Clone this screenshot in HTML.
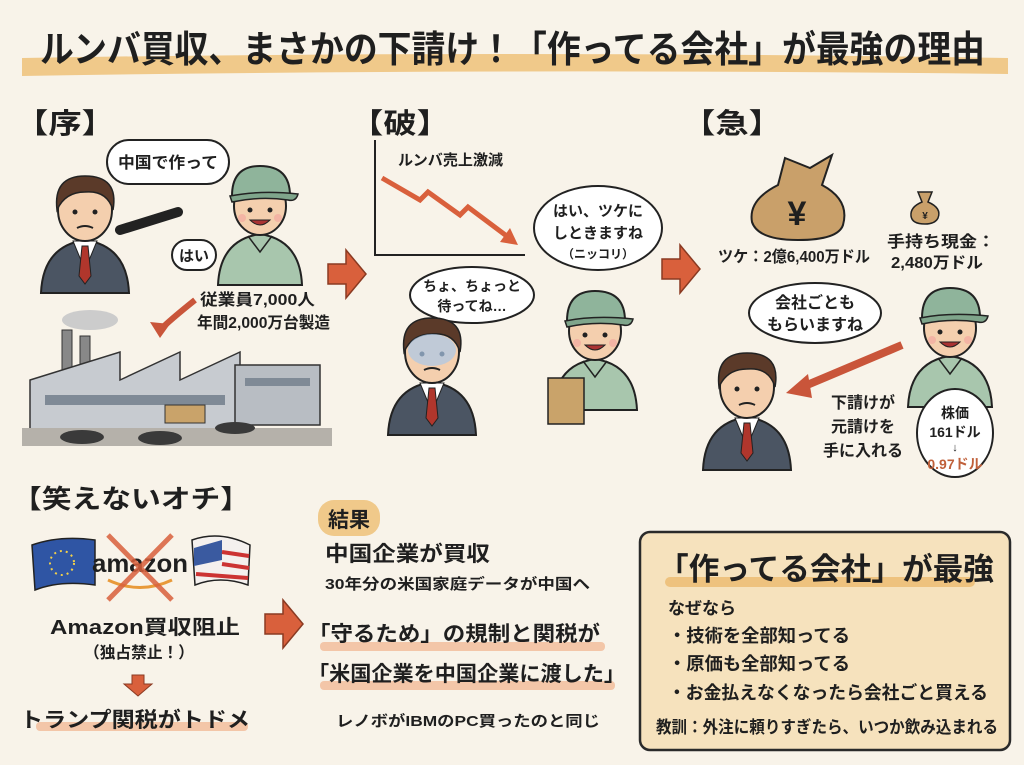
<!DOCTYPE html>
<html><head><meta charset="utf-8"><style>
html,body{margin:0;padding:0;background:#f8f3e9;}
svg{display:block;font-family:"Liberation Sans","Noto Sans CJK JP",sans-serif;}
.b{font-weight:bold;fill:#1f1f1f;}
</style></head><body>
<svg width="1024" height="765" viewBox="0 0 1024 765" xmlns="http://www.w3.org/2000/svg">
<defs>
<g id="man">
<path d="M6,125 Q8,78 50,72 Q92,78 94,125 Z" fill="#4b5563" stroke="#222" stroke-width="2"/>
<path d="M38,73 L50,102 L62,73 Z" fill="#fff" stroke="#222"/>
<path d="M47,78 L53,78 L56,108 L50,116 L44,108 Z" fill="#b0362c" stroke="#222"/>
<ellipse cx="50" cy="42" rx="27" ry="31" fill="#f4cfae" stroke="#222" stroke-width="2"/>
<path d="M22,42 Q18,8 50,8 Q84,8 78,42 Q72,22 50,24 Q30,24 22,42 Z" fill="#5b3a29" stroke="#222" stroke-width="1.5"/>
<circle cx="40" cy="44" r="2.5" fill="#222"/><circle cx="60" cy="44" r="2.5" fill="#222"/>
<path d="M42,60 Q50,56 58,60" stroke="#222" stroke-width="2" fill="none"/>
</g>
<g id="wk">
<path d="M8,125 Q10,80 50,74 Q90,80 92,125 Z" fill="#a8c6ad" stroke="#222" stroke-width="2"/>
<path d="M38,76 L50,92 L62,76" fill="none" stroke="#222" stroke-width="1.5"/>
<ellipse cx="50" cy="46" rx="26" ry="29" fill="#f4cfae" stroke="#222" stroke-width="2"/>
<path d="M22,36 Q22,6 50,6 Q80,6 80,36 Z" fill="#8fb49b" stroke="#222" stroke-width="2"/>
<path d="M20,36 Q50,30 88,34 Q86,42 78,40 Q50,36 22,42 Z" fill="#7fa58b" stroke="#222" stroke-width="1.5"/>
<circle cx="40" cy="50" r="2.5" fill="#222"/><circle cx="60" cy="50" r="2.5" fill="#222"/>
<path d="M40,60 Q50,70 60,60 Z" fill="#a33" stroke="#222"/>
<circle cx="32" cy="58" r="4" fill="#f2a8a0" opacity=".7"/><circle cx="68" cy="58" r="4" fill="#f2a8a0" opacity=".7"/>
</g>
<g id="arr"><path d="M0,14 L18,14 L18,0 L38,24 L18,48 L18,34 L0,34 Z" fill="#d9603c" stroke="#8a3a22" stroke-width="1.5"/></g>
</defs>

<!-- Title -->
<path d="M22,58 Q500,50 1008,58 L1008,74 Q500,68 22,76 Z" fill="#f0c98a"/>
<text x="40" y="62" class="b" font-size="37" textLength="945" lengthAdjust="spacingAndGlyphs">ルンバ買収、まさかの下請け！「作ってる会社」が最強の理由</text>

<text x="15" y="133" class="b" font-size="28" textLength="100" lengthAdjust="spacingAndGlyphs">【序】</text>
<text x="350" y="133" class="b" font-size="28" textLength="100" lengthAdjust="spacingAndGlyphs">【破】</text>
<text x="682" y="133" class="b" font-size="28" textLength="100" lengthAdjust="spacingAndGlyphs">【急】</text>

<!-- 序 -->
<rect x="107" y="140" width="122" height="44" rx="22" fill="#fff" stroke="#222" stroke-width="2"/>
<text x="118" y="168" font-size="16" class="b" textLength="100" lengthAdjust="spacingAndGlyphs">中国で作って</text>
<use href="#man" x="35" y="168"/>
<path d="M120,230 L178,212" stroke="#222" stroke-width="10" stroke-linecap="round"/>
<use href="#wk" x="210" y="160"/>
<rect x="172" y="240" width="44" height="30" rx="15" fill="#fff" stroke="#222" stroke-width="2"/>
<text x="194" y="261" text-anchor="middle" font-size="15" class="b">はい</text>
<text x="200" y="305" font-size="16" class="b" textLength="115" lengthAdjust="spacingAndGlyphs">従業員7,000人</text>
<text x="197" y="328" font-size="16" class="b" textLength="133" lengthAdjust="spacingAndGlyphs">年間2,000万台製造</text>
<path d="M195,300 Q170,320 160,330" stroke="#c9553a" stroke-width="6" fill="none"/>
<path d="M150,322 L160,338 L170,324 Z" fill="#c9553a"/>
<!-- factory -->
<rect x="62" y="330" width="10" height="50" fill="#888" stroke="#333"/><rect x="80" y="336" width="10" height="44" fill="#888" stroke="#333"/>
<ellipse cx="90" cy="320" rx="28" ry="10" fill="#ccc"/>
<path d="M30,380 L120,352 L120,380 L180,352 L180,380 L240,352 L240,430 L30,430 Z" fill="#c7cbd0" stroke="#333" stroke-width="1.5"/>
<rect x="235" y="365" width="85" height="60" fill="#b8bdc3" stroke="#333" stroke-width="1.5"/>
<rect x="45" y="395" width="180" height="10" fill="#7f8a96"/><rect x="245" y="378" width="65" height="8" fill="#7f8a96"/>
<rect x="165" y="405" width="40" height="18" fill="#c9a36a" stroke="#333"/>
<rect x="22" y="428" width="310" height="18" fill="#b5b1aa"/>
<ellipse cx="82" cy="437" rx="22" ry="7" fill="#3a3a3a"/><ellipse cx="160" cy="438" rx="22" ry="7" fill="#3a3a3a"/><ellipse cx="235" cy="428" rx="20" ry="6" fill="#3a3a3a"/>
<use href="#arr" x="328" y="250"/>

<!-- 破 -->
<path d="M375,140 L375,255 L525,255" stroke="#222" stroke-width="2" fill="none"/>
<text x="398" y="165" font-size="15" class="b" textLength="105" lengthAdjust="spacingAndGlyphs">ルンバ売上激減</text>
<path d="M382,178 L420,200 L428,192 L460,215 L468,207 L512,240" stroke="#d9603c" stroke-width="5" fill="none"/>
<path d="M500,242 L518,245 L510,228 Z" fill="#d9603c"/>
<ellipse cx="598" cy="228" rx="64" ry="42" fill="#fff" stroke="#222" stroke-width="2"/>
<text x="598" y="216" text-anchor="middle" font-size="15" class="b">はい、ツケに</text>
<text x="598" y="238" text-anchor="middle" font-size="15" class="b">しときますね</text>
<text x="598" y="258" text-anchor="middle" font-size="12" class="b">（ニッコリ）</text>
<ellipse cx="472" cy="295" rx="62" ry="28" fill="#fff" stroke="#222" stroke-width="2"/>
<text x="472" y="291" text-anchor="middle" font-size="14" class="b">ちょ、ちょっと</text>
<text x="472" y="311" text-anchor="middle" font-size="14" class="b">待ってね…</text>
<use href="#man" x="382" y="310"/>
<ellipse cx="432" cy="350" rx="24" ry="16" fill="#a9c8e8" opacity=".7"/>
<use href="#wk" x="545" y="285"/>
<rect x="548" y="378" width="36" height="46" fill="#c9a36a" stroke="#222" stroke-width="1.5"/>
<use href="#arr" x="662" y="245"/>

<!-- 急 -->
<path d="M785,158 L810,168 L832,155 L822,185 Q850,200 843,225 Q838,240 798,240 Q758,240 752,222 Q748,200 778,185 Z" fill="#c9a06a" stroke="#222" stroke-width="2"/>
<text x="797" y="225" text-anchor="middle" font-size="34" class="b">¥</text>
<text x="718" y="262" font-size="16" class="b" textLength="152" lengthAdjust="spacingAndGlyphs">ツケ：2億6,400万ドル</text>
<path d="M918,192 L932,192 L928,202 Q942,208 938,218 Q935,224 925,224 Q912,224 911,216 Q910,207 922,202 Z" fill="#c9a06a" stroke="#222" stroke-width="1.5"/>
<text x="925" y="219" text-anchor="middle" font-size="10" class="b">¥</text>
<text x="887" y="247" font-size="16" class="b" textLength="108" lengthAdjust="spacingAndGlyphs">手持ち現金：</text>
<text x="891" y="268" font-size="16" class="b" textLength="92" lengthAdjust="spacingAndGlyphs">2,480万ドル</text>
<ellipse cx="815" cy="313" rx="66" ry="30" fill="#fff" stroke="#222" stroke-width="2"/>
<text x="815" y="308" text-anchor="middle" font-size="16" class="b">会社ごとも</text>
<text x="815" y="330" text-anchor="middle" font-size="16" class="b">もらいますね</text>
<use href="#wk" x="900" y="282"/>
<use href="#man" x="697" y="345"/>
<path d="M902,345 L800,388" stroke="#c9553a" stroke-width="8"/>
<path d="M786,393 L808,374 L812,398 Z" fill="#c9553a"/>
<text x="863" y="408" text-anchor="middle" font-size="16" class="b">下請けが</text>
<text x="863" y="432" text-anchor="middle" font-size="16" class="b">元請けを</text>
<text x="863" y="456" text-anchor="middle" font-size="16" class="b">手に入れる</text>
<ellipse cx="955" cy="433" rx="38" ry="44" fill="#fff" stroke="#222" stroke-width="2"/>
<text x="955" y="418" text-anchor="middle" font-size="14" class="b">株価</text>
<text x="955" y="437" text-anchor="middle" font-size="14" class="b">161ドル</text>
<text x="955" y="451" text-anchor="middle" font-size="11" class="b">↓</text>
<text x="955" y="469" text-anchor="middle" font-size="14" font-weight="bold" fill="#c0603a">0.97ドル</text>

<!-- オチ -->
<text x="12" y="508" class="b" font-size="26" textLength="238" lengthAdjust="spacingAndGlyphs">【笑えないオチ】</text>
<path d="M32,545 Q60,535 95,540 L95,585 Q60,580 35,590 Z" fill="#2f55a4" stroke="#222" stroke-width="1.5"/>
<circle cx="62" cy="563" r="12" fill="none" stroke="#f2d04a" stroke-width="2" stroke-dasharray="2 4"/>
<path d="M192,540 Q220,530 250,545 L248,585 Q220,575 195,585 Z" fill="#f4f0ee" stroke="#222" stroke-width="1.5"/>
<path d="M194,548 L222,540 L222,560 L194,566 Z" fill="#3a5aa0"/>
<path d="M222,552 L249,556 M222,564 L249,568 M196,574 L248,578" stroke="#c33" stroke-width="4"/>
<text x="92" y="572" font-size="25" class="b" fill="#333" textLength="96" lengthAdjust="spacingAndGlyphs">amazon</text>
<path d="M108,580 Q140,595 172,580" stroke="#e89a3a" stroke-width="3" fill="none"/>
<path d="M108,535 L172,600 M172,535 L108,600" stroke="#d9603c" stroke-width="5" opacity=".85"/>
<text x="50" y="634" font-size="20" class="b" textLength="190" lengthAdjust="spacingAndGlyphs">Amazon買収阻止</text>
<text x="84" y="658" font-size="16" class="b" textLength="110" lengthAdjust="spacingAndGlyphs">（独占禁止！）</text>
<path d="M132,675 L144,675 L144,684 L152,684 L138,696 L124,684 L132,684 Z" fill="#d9603c" stroke="#8a3a22"/>
<rect x="36" y="722" width="212" height="9" rx="4" fill="#f3c6a8"/>
<text x="20" y="727" font-size="21" class="b" textLength="230" lengthAdjust="spacingAndGlyphs">トランプ関税がトドメ</text>
<use href="#arr" x="265" y="600"/>

<rect x="318" y="500" width="62" height="36" rx="16" fill="#f0c98a"/>
<text x="349" y="527" text-anchor="middle" font-size="21" class="b">結果</text>
<text x="325" y="561" font-size="21" class="b" textLength="165" lengthAdjust="spacingAndGlyphs">中国企業が買収</text>
<text x="325" y="589" font-size="15" class="b" textLength="265" lengthAdjust="spacingAndGlyphs">30年分の米国家庭データが中国へ</text>
<rect x="320" y="642" width="285" height="9" rx="4" fill="#f3c6a8"/>
<text x="308" y="641" font-size="21" class="b" textLength="292" lengthAdjust="spacingAndGlyphs">「守るため」の規制と関税が</text>
<rect x="320" y="681" width="295" height="9" rx="4" fill="#f3c6a8"/>
<text x="308" y="681" font-size="21" class="b" textLength="317" lengthAdjust="spacingAndGlyphs">「米国企業を中国企業に渡した」</text>
<text x="336" y="726" font-size="15" class="b" textLength="264" lengthAdjust="spacingAndGlyphs">レノボがIBMのPC買ったのと同じ</text>

<!-- box -->
<rect x="640" y="532" width="370" height="218" rx="10" fill="#f6e2bd" stroke="#2a2a2a" stroke-width="2.5"/>
<rect x="665" y="577" width="310" height="10" rx="5" fill="#eec27e"/>
<text x="658" y="580" font-size="31" class="b" textLength="336" lengthAdjust="spacingAndGlyphs">「作ってる会社」が最強</text>
<text x="668" y="614" font-size="17" class="b" textLength="68" lengthAdjust="spacingAndGlyphs">なぜなら</text>
<text x="668" y="642" font-size="18" class="b" textLength="182" lengthAdjust="spacingAndGlyphs">・技術を全部知ってる</text>
<text x="668" y="670" font-size="18" class="b" textLength="182" lengthAdjust="spacingAndGlyphs">・原価も全部知ってる</text>
<text x="668" y="699" font-size="18" class="b" textLength="320" lengthAdjust="spacingAndGlyphs">・お金払えなくなったら会社ごと買える</text>
<text x="656" y="733" font-size="17" class="b" textLength="342" lengthAdjust="spacingAndGlyphs">教訓：外注に頼りすぎたら、いつか飲み込まれる</text>
</svg>
</body></html>
